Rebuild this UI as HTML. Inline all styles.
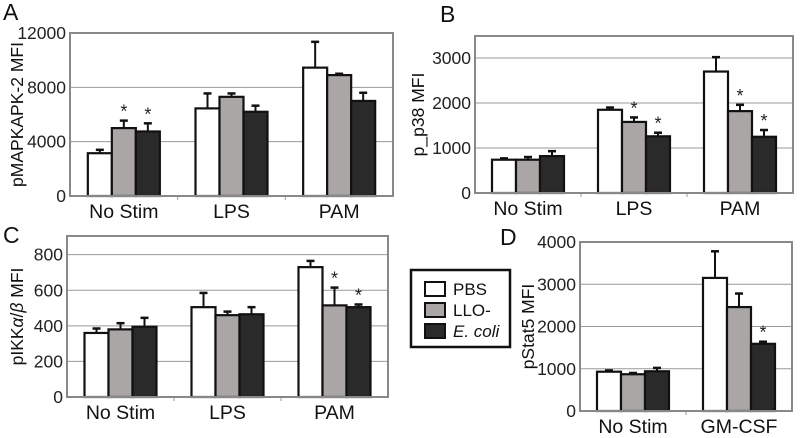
<!DOCTYPE html>
<html><head><meta charset="utf-8"><style>
body{margin:0;background:#fff;width:800px;height:433px;overflow:hidden}
svg{font-family:"Liberation Sans",sans-serif}
</style></head><body>
<svg id="fig" width="800" height="433"></svg>
<script>
const catsA=["No Stim","LPS","PAM"];
const pbsA=[3150,6450,9450], lloA=[5000,7300,8900], ecoA=[4750,6200,7000];
const pbsAErr=[3400,7550,11350], lloAErr=[5550,7550,9000], ecoAErr=[5350,6650,7600];
const ticksA=[0,4000,8000,12000];
const starsA=[[0,1],[0,2]];

const catsB=["No Stim","LPS","PAM"];
const pbsB=[740,1850,2700], lloB=[740,1580,1820], ecoB=[820,1260,1250];
const pbsBErr=[770,1900,3020], lloBErr=[800,1680,1960], ecoBErr=[930,1340,1400];
const ticksB=[0,1000,2000,3000];
const starsB=[[1,1],[1,2],[2,1],[2,2]];

const catsC=["No Stim","LPS","PAM"];
const pbsC=[360,505,730], lloC=[380,460,515], ecoC=[395,465,505];
const pbsCErr=[385,585,765], lloCErr=[415,480,615], ecoCErr=[445,505,520];
const ticksC=[0,200,400,600,800];
const starsC=[[2,1],[2,2]];

const catsD=["No Stim","GM-CSF"];
const pbsD=[930,3150], lloD=[870,2460], ecoD=[940,1590];
const pbsDErr=[960,3780], lloDErr=[900,2780], ecoDErr=[1020,1640];
const ticksD=[0,1000,2000,3000,4000];
const starsD=[[1,2]];

const NS="http://www.w3.org/2000/svg";
const svg=document.getElementById('fig');
function mk(tag,attrs,parent){const e=document.createElementNS(NS,tag);for(const k in attrs)e.setAttribute(k,attrs[k]);(parent||svg).appendChild(e);return e;}
const fills=["#ffffff","#aaa6a6","#2a2a2a"];

function panel(p){
  const g=mk('g',{});
  
  
  const y=v=>p.y1-(v/p.max)*(p.y1-p.y0);
  const gw=(p.x1-p.x0)/p.cats.length;
  p.ticks.forEach(t=>{
    if(t>0){const l=mk('line',{x1:p.x0,x2:p.x1,y1:y(t),y2:y(t),stroke:'#999','stroke-width':1},g);
      }
    const tx=mk('text',{x:p.x0-4,y:y(t)+6,'text-anchor':'end','font-size':17.5,fill:'#222'},g);
    tx.textContent=t;
    
  });
  const series=[p.pbs,p.llo,p.eco], errs=[p.pbsE,p.lloE,p.ecoE];
  const bw=24;
  p.cats.forEach((c,i)=>{
    const cx=p.x0+gw*(i+0.5);
    series.forEach((s,j)=>{
      const bx=cx-1.5*bw+j*bw;
      const ex=bx+bw/2;
      const el=mk('line',{x1:ex,x2:ex,y1:y(s[i]),y2:y(errs[j][i]),stroke:'#111','stroke-width':2},g);
      
      const cap=mk('line',{x1:ex-4,x2:ex+4,y1:y(errs[j][i]),y2:y(errs[j][i]),stroke:'#111','stroke-width':2.5},g);
      
      const r=mk('rect',{x:bx,y:y(s[i]),width:bw,height:p.y1-y(s[i]),fill:fills[j],stroke:'#111','stroke-width':2.2},g);
      
    });
    const lt=mk('text',{x:cx,y:p.y1+22,'text-anchor':'middle','font-size':19.5,fill:'#111'},g);
    lt.textContent=c;
    
    if(i>0){mk('line',{x1:p.x0+gw*i,x2:p.x0+gw*i,y1:p.y1,y2:p.y1+4,stroke:'#999'},g);}
  });
  p.stars.forEach(([i,j])=>{
    const cx=p.x0+gw*(i+0.5)-1.5*bw+j*bw+bw/2;
    const st=mk('text',{x:cx,y:y(errs[j][i])-3,'text-anchor':'middle','font-size':18,fill:'#222'},g);
    st.textContent='*';
    
  });
  const box=mk('rect',{x:p.x0,y:p.y0,width:p.x1-p.x0,height:p.y1-p.y0,fill:'none',stroke:'#888','stroke-width':2},g);
  
  const cy=(p.y0+p.y1)/2;
  const yt=mk('text',{x:p.tx,y:cy,'text-anchor':'middle','font-size':17.5,fill:'#111',transform:`rotate(-90 ${p.tx} ${cy})`},g);
  yt.innerHTML=p.title;
  
  const L=mk('text',{x:p.lx,y:p.ly,'font-size':23,fill:'#111'},g);
  L.textContent=p.id;
  
}
panel({id:'A',x0:70,x1:393,y0:33,y1:196,max:12000,cats:catsA,pbs:pbsA,llo:lloA,eco:ecoA,pbsE:pbsAErr,lloE:lloAErr,ecoE:ecoAErr,ticks:ticksA,stars:starsA,title:'pMAPKAPK-2 MFI',tx:23,lx:3,ly:20});
panel({id:'B',x0:475,x1:793,y0:36,y1:193,max:3490,cats:catsB,pbs:pbsB,llo:lloB,eco:ecoB,pbsE:pbsBErr,lloE:lloBErr,ecoE:ecoBErr,ticks:ticksB,stars:starsB,title:'p_p38 MFI',tx:424,lx:440,ly:22});
panel({id:'C',x0:67,x1:388,y0:236,y1:397,max:905,cats:catsC,pbs:pbsC,llo:lloC,eco:ecoC,pbsE:pbsCErr,lloE:lloCErr,ecoE:ecoCErr,ticks:ticksC,stars:starsC,title:'pIKK<tspan font-style="italic">α</tspan>/<tspan font-style="italic">β</tspan> MFI',tx:23,lx:3,ly:243});
panel({id:'D',x0:580,x1:792,y0:242,y1:411,max:4000,cats:catsD,pbs:pbsD,llo:lloD,eco:ecoD,pbsE:pbsDErr,lloE:lloDErr,ecoE:ecoDErr,ticks:ticksD,stars:starsD,title:'pStat5 MFI',tx:534,lx:500,ly:245});

// legend
const lg=mk('g',{});


mk('rect',{x:411,y:270,width:99,height:77,fill:'#fff',stroke:'#111','stroke-width':2.5},lg);
const labs=["PBS","LLO-","E. coli"];
labs.forEach((t,j)=>{
  const yy=282+j*21;
  const sw=mk('rect',{x:425,y:yy,width:20,height:14,fill:fills[j],stroke:'#111','stroke-width':2},lg);
  
  const tx=mk('text',{x:453,y:yy+13,'font-size':17,fill:'#111'},lg);
  if(j==2)tx.setAttribute('font-style','italic');
  tx.textContent=t;
  
});
</script>
</body></html>
